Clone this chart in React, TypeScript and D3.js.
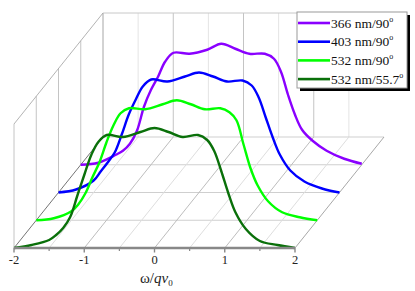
import React from 'react';
import * as d3 from 'd3';

// shared frequency grid (ω/qv0)
const omega = [-2, -1.75, -1.5, -1.4, -1.3, -1.2, -1.1, -1.0, -0.9, -0.8, -0.68, -0.45, -0.2, 0, 0.2, 0.4, 0.62, 0.75, 0.85, 0.95, 1.05, 1.15, 1.3, 1.5, 1.75, 2];

// intensities (arb. units) per series
const s366 = [0, 2, 10, 14, 21, 34, 58, 75, 88, 103, 112, 111, 115, 121, 116, 111, 111, 106, 93, 70, 50, 35, 24, 14, 6, 1];
const s403 = [0, 3, 12, 21, 30, 40, 58, 78, 93, 106, 113, 111, 116, 120, 116, 111, 112, 107, 95, 75, 55, 38, 22, 11, 4, 0];
const s532 = [0, 2, 9, 16, 27, 43, 58, 78, 95, 107, 112, 111, 116, 120, 116, 111, 112, 108, 100, 76, 52, 35, 19, 8, 3, 0];
const s532b = [0, 3, 8, 13, 20, 31, 52, 73, 93, 106, 113, 111, 116, 120, 116, 111, 113, 108, 97, 77, 55, 36, 19, 7, 3, 0];

const seriesNames = ['366 nm/90', '403 nm/90', '532 nm/90', '532 nm/55.7'];
const seriesColors = ['#8a00ff', '#0000ff', '#00ff00', '#0a700a'];
const seriesData = [s366, s403, s532, s532b];
const seriesDepth = [3, 2, 1, 0];

const xTicks = [-2, -1, 0, 1, 2];
const xMinor = [-1.5, -0.5, 0.5, 1.5];
const gridX = [-2, -1.5, -1, -0.5, 0, 0.5, 1, 1.5, 2];
const depths = [0, 1, 2, 3, 4];

const W = 415, H = 291;

export default function App() {
  const x = d3.scaleLinear().domain([-2, 2]).range([14, 295]);
  const z = d3.scaleLinear().domain([0, 124]).range([0, 124]);
  const dX = d3.scaleLinear().domain([0, 4]).range([0, 89]);
  const dY = d3.scaleLinear().domain([0, 4]).range([248, 137]);
  const zTop = 124;

  const P = (u: number, d: number, h: number): [number, number] => [x(u) + dX(d), dY(d) - z(h)];

  const line = d3.line<[number, number]>().x(p => p[0]).y(p => p[1]).curve(d3.curveCatmullRom.alpha(0.5));

  const grid: JSX.Element[] = [];
  gridX.forEach((u, i) => {
    if (u === 2) return;
    const a = P(u, 4, 0), b = P(u, 4, zTop);
    const major = Number.isInteger(u);
    grid.push(<line key={'bw' + i} x1={a[0]} y1={a[1]} x2={b[0]} y2={b[1]} stroke={major ? '#c4c4c4' : '#e4e4e4'} strokeWidth={1} />);
  });
  {
    const a = P(-2, 4, zTop), b = P(2, 4, zTop);
    grid.push(<line key="bwt" x1={a[0]} y1={a[1]} x2={b[0]} y2={b[1]} stroke="#c8c8c8" strokeWidth={1} />);
  }
  depths.forEach(d => {
    const a = P(-2, d, 0), b = P(-2, d, zTop);
    grid.push(<line key={'lw' + d} x1={a[0]} y1={a[1]} x2={b[0]} y2={b[1]} stroke="#c4c4c4" strokeWidth={1} />);
  });
  {
    const a = P(-2, 0, zTop), b = P(-2, 4, zTop);
    grid.push(<line key="lwt" x1={a[0]} y1={a[1]} x2={b[0]} y2={b[1]} stroke="#a0a0a0" strokeWidth={0.8} />);
  }
  depths.slice(1).forEach(d => {
    const a = P(-2, d, 0), b = P(2, d, 0);
    grid.push(<line key={'fh' + d} x1={a[0]} y1={a[1]} x2={b[0]} y2={b[1]} stroke="#cfcfcf" strokeWidth={1} />);
  });
  gridX.forEach((u, i) => {
    const a = P(u, 0, 0), b = P(u, 4, 0);
    const col = u === -2 ? '#505050' : u === 2 ? '#a8a8a8' : Number.isInteger(u) ? '#bdbdbd' : '#dedede';
    grid.push(<line key={'fd' + i} x1={a[0]} y1={a[1]} x2={b[0]} y2={b[1]} stroke={col} strokeWidth={u === -2 ? 0.8 : 1} />);
  });

  const curves = seriesData.map((vals, si) => {
    const pts = omega.map((u, i) => P(u, seriesDepth[si], vals[i]));
    return <path key={'c' + si} d={line(pts) || ''} fill="none" stroke={seriesColors[si]} strokeWidth={2.4} strokeLinecap="butt" />;
  });

  const y0 = dY(0);
  const legX = 297, legY = 12, legW = 110, legH = 76;

  return (
    <svg width={W} height={H} style={{ position: 'absolute', left: 0, top: 0, background: '#fff', fontFamily: "'Liberation Serif', 'Times New Roman', serif" }}>
      <rect x={0} y={0} width={W} height={H} fill="#fff" />
      {grid}
      {curves}
      <line x1={x(-2)} y1={y0} x2={x(2)} y2={y0} stroke="#888" strokeWidth={2.6} />
      {xTicks.map(t => (
        <line key={'t' + t} x1={x(t)} y1={y0} x2={x(t)} y2={y0 + 4.5} stroke="#888" strokeWidth={1.4} />
      ))}
      {xMinor.map(t => (
        <line key={'m' + t} x1={x(t)} y1={y0} x2={x(t)} y2={y0 + 3} stroke="#888" strokeWidth={1.2} />
      ))}
      {xTicks.map(t => (
        <text key={'l' + t} x={x(t)} y={264} fontSize={12.5} textAnchor="middle" fill="#222">{t}</text>
      ))}
      <text x={140} y={283} fontSize={15} fill="#222">
        <tspan>ω/</tspan><tspan fontStyle="italic">qv</tspan><tspan fontSize={9} dy={3}>0</tspan>
      </text>
      <rect x={legX + 3} y={legY + 3} width={legW} height={legH} fill="#000" />
      <rect x={legX} y={legY} width={legW} height={legH} fill="#fff" stroke="#9a9a9a" strokeWidth={1} />
      {seriesNames.map((n, i) => {
        const yy = legY + 11 + i * 18.7;
        return (
          <g key={'lg' + i}>
            <line x1={legX + 1} y1={yy} x2={legX + 33} y2={yy} stroke={seriesColors[i]} strokeWidth={2.6} />
            <text x={legX + 34} y={yy + 4.5} fontSize={13.5} fill="#111">
              {n}<tspan fontSize={8} dy={-6}>o</tspan>
            </text>
          </g>
        );
      })}
    </svg>
  );
}
